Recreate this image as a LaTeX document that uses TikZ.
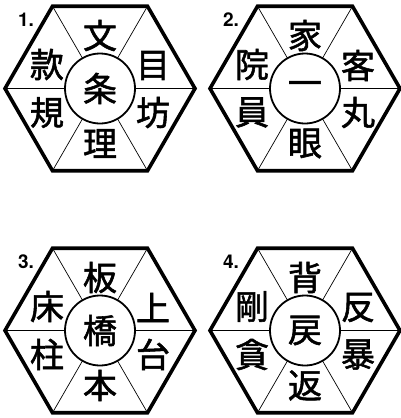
\documentclass[tikz,border=0pt]{standalone}
\usepackage{fontspec}
\setsansfont{TeX Gyre Heros}
\newfontfamily\cjk[FakeBold=1.6]{Noto Sans CJK JP}
\begin{document}
\begin{tikzpicture}[
  x=1pt, y=-1pt,
  hexline/.style={line width=3.6pt, line join=miter},
  spoke/.style={line width=0.7pt},
  hub/.style={circle, draw, line width=1.8pt, minimum size=70pt, inner sep=0pt, fill=white, font=\cjk\fontsize{34}{34}\selectfont},
  kanji/.style={font=\cjk\fontsize{34}{34}\selectfont, inner sep=0pt},
  num/.style={font=\sffamily\bfseries\fontsize{19}{19}\selectfont, inner sep=0pt}
]
\path[use as bounding box] (0,0) rectangle (401,418);

\foreach \n/\cx/\cy/\kc/\kt/\kul/\kur/\kll/\klr/\kb in {
  1/100/88.5/条/文/款/目/規/坊/理,
  2/305/88.5/一/家/院/客/員/丸/眼,
  3/100/330.5/橋/板/床/上/柱/台/本,
  4/305/330.5/戻/背/剛/反/貪/暴/返}{
  \coordinate (c\n) at (\cx,\cy);
  % outline and spokes
  \draw[hexline] ([shift={(0:95)}]c\n) -- ([shift={(60:95)}]c\n) -- ([shift={(120:95)}]c\n)
    -- ([shift={(180:95)}]c\n) -- ([shift={(240:95)}]c\n) -- ([shift={(300:95)}]c\n) -- cycle;
  \foreach \a in {0,60,...,300}
    \draw[spoke] ([shift={(\a:35)}]c\n) -- ([shift={(\a:95)}]c\n);
  \node[hub] (m\n) at (c\n) {\kc};
  % outer characters
  \node[kanji] (t\n) at ([shift={(0,-53)}]c\n) {\kt};
  \node[kanji] (ul\n) at ([shift={(-53,-24)}]c\n) {\kul};
  \node[kanji] (ur\n) at ([shift={(53,-23)}]c\n) {\kur};
  \node[kanji] (ll\n) at ([shift={(-53,24)}]c\n) {\kll};
  \node[kanji] (lr\n) at ([shift={(53,24)}]c\n) {\klr};
  \node[kanji] (b\n) at ([shift={(0,55)}]c\n) {\kb};
  \node[num] (l\n) at ([shift={(-74,-69)}]c\n) {\n.};
}
\end{tikzpicture}
\end{document}
